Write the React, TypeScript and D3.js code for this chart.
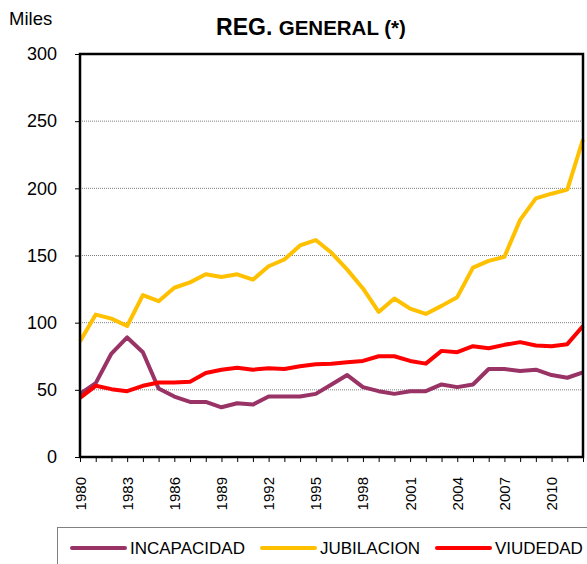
import React, { useEffect, useRef } from "react";
import * as d3 from "d3";

// years on the x axis
const years = d3.range(1980, 2013);

// series values (thousands)
const incapacidad = [47, 55, 77, 89, 78, 51, 45, 41, 41, 37, 40, 39, 45, 45, 45, 47, 54, 61, 52, 49, 47, 49, 49, 54, 52, 54, 65.5, 65.5, 64, 65, 61, 59, 63];
const jubilacion = [86, 106, 103, 97.5, 120.5, 116, 126, 130, 136, 134, 136, 132, 142, 147, 157.5, 161.5, 152, 139.5, 125.5, 108, 118, 110.5, 106.5, 112.5, 119, 141, 146, 149, 176.5, 192.5, 196, 199, 236.5];
const viudedad = [44, 53, 50.5, 49, 53, 55.5, 55.5, 56, 62.5, 65, 66.5, 65, 66, 65.5, 67.5, 69, 69.5, 70.5, 71.5, 75, 75, 71.5, 69.5, 79, 78, 82.5, 81, 83.5, 85.5, 83, 82.5, 84, 97.5];

const yTicks = [0, 50, 100, 150, 200, 250, 300];
const labelYears = [1980, 1983, 1986, 1989, 1992, 1995, 1998, 2001, 2004, 2007, 2010];

const series = [
  { name: "INCAPACIDAD", values: incapacidad, color: "#993366" },
  { name: "JUBILACION", values: jubilacion, color: "#FFC000" },
  { name: "VIUDEDAD", values: viudedad, color: "#FF0000" },
];

const App = () => {
  const ref = useRef<SVGSVGElement>(null);

  useEffect(() => {
    const svg = d3.select(ref.current);
    svg.selectAll("*").remove();

    const left = 80, right = 583, top = 54, bottom = 457;
    const font = "Liberation Sans, Arial, sans-serif";

    const x = d3.scaleLinear().domain([1980, 2012]).range([left, right]);
    const y = d3.scaleLinear().domain([0, 300]).range([bottom, top]);

    // gridlines (dotted)
    svg.append("g")
      .selectAll("line")
      .data(yTicks.filter(d => d > 0 && d < 300))
      .join("line")
      .attr("x1", left).attr("x2", right)
      .attr("y1", d => y(d)).attr("y2", d => y(d))
      .attr("stroke", "#808080")
      .attr("stroke-width", 1)
      .attr("stroke-dasharray", "1,1");

    // y axis
    const yAxis = svg.append("g")
      .attr("transform", `translate(${left},0)`)
      .call(d3.axisLeft(y).tickValues(yTicks).tickSize(5).tickPadding(18));
    yAxis.select(".domain").remove();
    yAxis.selectAll(".tick line").attr("stroke", "#000");
    yAxis.selectAll("text")
      .attr("font-family", font)
      .attr("font-size", 18)
      .attr("fill", "#000");

    // x axis ticks, one per year
    const xAxis = svg.append("g")
      .attr("transform", `translate(0,${bottom})`)
      .call(d3.axisBottom(x).tickValues(years).tickSize(5).tickFormat(() => ""));
    xAxis.select(".domain").remove();
    xAxis.selectAll(".tick line").attr("stroke", "#000");

    // rotated year labels
    svg.append("g")
      .selectAll("text")
      .data(labelYears)
      .join("text")
      .attr("transform", d => `translate(${x(d) + 5.5},477) rotate(-90)`)
      .attr("text-anchor", "end")
      .attr("font-family", font)
      .attr("font-size", 15)
      .text(d => d);

    // lines
    const line = d3.line<number>()
      .x((d, i) => x(years[i]))
      .y(d => y(d));

    svg.append("g")
      .selectAll("path")
      .data(series)
      .join("path")
      .attr("d", d => line(d.values))
      .attr("fill", "none")
      .attr("stroke", d => d.color)
      .attr("stroke-width", 4)
      .attr("stroke-linejoin", "round");

    // plot area border
    svg.append("rect")
      .attr("x", left).attr("y", top)
      .attr("width", right - left).attr("height", bottom - top)
      .attr("fill", "none")
      .attr("stroke", "#000")
      .attr("stroke-width", 2.5);

    // title and unit
    svg.append("text")
      .attr("x", 9).attr("y", 25)
      .attr("font-family", font)
      .attr("font-size", 18.5)
      .text("Miles");

    const title = svg.append("text")
      .attr("x", 311).attr("y", 35)
      .attr("text-anchor", "middle")
      .attr("font-family", font)
      .attr("font-weight", "bold");
    title.append("tspan").attr("font-size", 23).text("REG. ");
    title.append("tspan").attr("font-size", 20.5).text("GENERAL (*)");

    // legend
    svg.append("rect")
      .attr("x", 57.5).attr("y", 527.5)
      .attr("width", 540).attr("height", 45)
      .attr("fill", "#fff")
      .attr("stroke", "#808080");

    const legendX = [72, 262, 437];
    const items = svg.append("g")
      .selectAll("g")
      .data(series)
      .join("g")
      .attr("transform", (d, i) => `translate(${legendX[i]},548)`);
    items.append("line")
      .attr("x1", 0).attr("x2", 53)
      .attr("stroke", d => d.color)
      .attr("stroke-width", 4)
      .attr("stroke-linecap", "round");
    items.append("text")
      .attr("x", 58).attr("y", 6)
      .attr("font-family", font)
      .attr("font-size", 17)
      .text(d => d.name);
  }, []);

  return (
    <svg ref={ref} width={587} height={564}
      style={{ position: "absolute", left: 0, top: 0, background: "#fff" }} />
  );
};

export default App;
